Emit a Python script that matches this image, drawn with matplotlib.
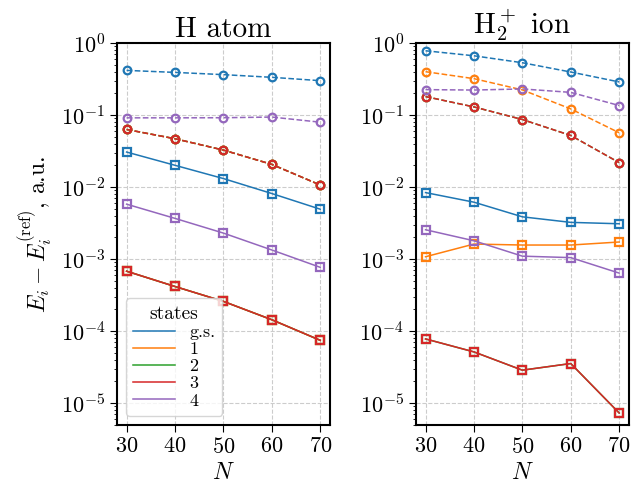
import matplotlib
matplotlib.use("Agg")
import matplotlib.pyplot as plt
from matplotlib.lines import Line2D

plt.rcParams['font.family'] = 'serif'
plt.rcParams['font.serif'] = ['cmr10']
plt.rcParams['mathtext.fontset'] = 'cm'
plt.rcParams['axes.formatter.use_mathtext'] = True
plt.rcParams['axes.linewidth'] = 1.5

N = [30, 40, 50, 60, 70]
states = ['g.s.', '1', '2', '3', '4']
colors = ['tab:blue', 'tab:orange', 'tab:green', 'tab:red', 'tab:purple']

# H atom: dashed/circles and solid/squares, one row per state
h_circ = [
    [0.418, 0.392, 0.365, 0.335, 0.301],
    [0.0632, 0.047, 0.0327, 0.0207, 0.0107],
    [0.0632, 0.047, 0.0327, 0.0207, 0.0107],
    [0.0632, 0.047, 0.0327, 0.0207, 0.0107],
    [0.0917, 0.0917, 0.092, 0.094, 0.0798],
]
h_sq = [
    [0.0307, 0.0201, 0.01315, 0.00815, 0.00494],
    [0.00068, 0.000417, 0.000259, 0.000144, 7.46e-5],
    [0.00068, 0.000417, 0.000259, 0.000144, 7.46e-5],
    [0.00068, 0.000417, 0.000259, 0.000144, 7.46e-5],
    [0.0058, 0.00368, 0.0023, 0.00134, 0.00077],
]

# H2+ ion
ion_circ = [
    [0.783, 0.667, 0.534, 0.397, 0.289],
    [0.401, 0.321, 0.224, 0.122, 0.0569],
    [0.181, 0.130, 0.0869, 0.0522, 0.0219],
    [0.181, 0.130, 0.0869, 0.0522, 0.0219],
    [0.226, 0.223, 0.231, 0.207, 0.136],
]
ion_sq = [
    [0.0084, 0.00618, 0.00387, 0.00324, 0.0031],
    [0.00108, 0.00162, 0.00157, 0.00157, 0.00173],
    [7.8e-5, 5.15e-5, 2.87e-5, 3.55e-5, 7.3e-6],
    [7.8e-5, 5.15e-5, 2.87e-5, 3.55e-5, 7.3e-6],
    [0.00256, 0.0018, 0.0011, 0.00105, 0.00064],
]

fig = plt.figure(figsize=(6.32, 4.9), dpi=100)
ax1 = fig.add_axes([0.185, 0.133, 0.337, 0.779])
ax2 = fig.add_axes([0.658, 0.133, 0.337, 0.779])

for ax, circ, sq, title in [(ax1, h_circ, h_sq, 'H atom'),
                            (ax2, ion_circ, ion_sq, r'H$_2^+$ ion')]:
    for i in range(len(states)):
        ax.plot(N, circ[i], '--o', color=colors[i], lw=1.1, ms=5.5,
                mew=1.6, mfc='none')
        ax.plot(N, sq[i], '-s', color=colors[i], lw=1.1, ms=5.5,
                mew=1.6, mfc='none')
    ax.set_yscale('log')
    ax.set_ylim(5e-6, 1)
    ax.set_xticks(N)
    ax.grid(True, ls='--', color='0.8', lw=0.8)
    ax.set_xlabel('$N$', fontsize=17)
    ax.set_title(title, fontsize=21, pad=4)
    ax.tick_params(labelsize=16)
    ax.tick_params(which='major', length=5)

ax1.set_ylabel(r'$E_i - E_i^{\mathrm{(ref)}}$, a.u.', fontsize=17)

handles = [Line2D([], [], color=c, lw=1.1) for c in colors]
ax1.legend(handles, states, title='states', loc='lower left',
           fontsize=13, title_fontsize=14, handlelength=2.3,
           labelspacing=0.08, borderpad=0.4)

fig.savefig('out.png', dpi=100)
